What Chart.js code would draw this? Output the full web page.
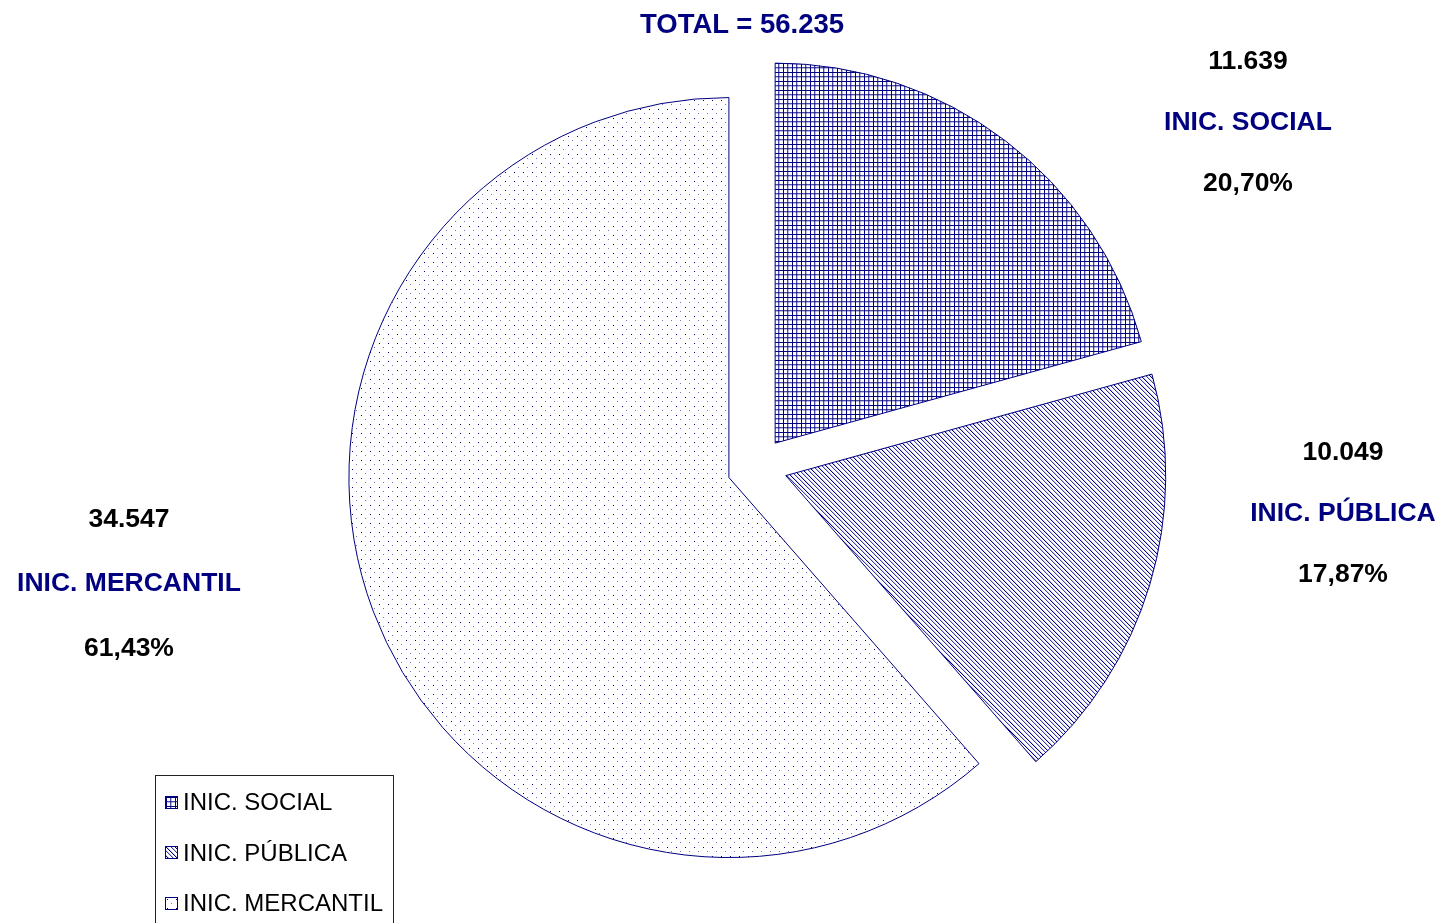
<!DOCTYPE html>
<html>
<head>
<meta charset="utf-8">
<script src="https://cdn.jsdelivr.net/npm/chart.js@4.4.0/dist/chart.umd.min.js"></script>
<style>
  body {
    margin: 0;
    width: 1440px;
    height: 923px;
    overflow: hidden;
    position: relative;
    background: #fff;
    font-family: "Liberation Sans", Arial, sans-serif;
  }
  #pie { position: absolute; left: 0; top: 0; }
  .lbl {
    position: absolute;
    transform: translate(-50%, -50%);
    font-weight: bold;
    font-size: 26.5px;
    white-space: nowrap;
    line-height: 1;
  }
  #title { font-size: 27.5px; }
  .navy { color: #000080; }
  .black { color: #000; }
  #legend {
    position: absolute;
    left: 155px;
    top: 775px;
    width: 239px;
    height: 170px;
    border: 1px solid #222;
    box-sizing: border-box;
  }
  .item {
    position: absolute;
    left: 9px;
    display: flex;
    align-items: center;
    font-size: 24px;
    color: #000;
    white-space: nowrap;
  }
  .sw {
    width: 13px;
    height: 13px;
    border: 1px solid #000080;
    box-sizing: border-box;
    margin-right: 5px;
  }
</style>
</head>
<body>
<canvas id="pie" width="1440" height="923"></canvas>
<div id="title" class="lbl navy"></div>
<div id="labels"></div>
<div id="legend"></div>
<script>
const categories = ["INIC. SOCIAL", "INIC. PÚBLICA", "INIC. MERCANTIL"];
const values = [11639, 10049, 34547];
const patternKinds = ["grid", "diag", "dots"];

// where each outside label block sits (centre of the name line) and line gap
const labelPos = [
  { x: 1248, y: 121, gap: 61 },
  { x: 1343, y: 512, gap: 61 },
  { x: 129, y: 582, gap: 64.5 },
];

const NAVY = "#000080";
const EXPLODE = 30; // every slice is pulled out from the centre
const total = values.reduce((a, b) => a + b, 0);

function fmtThousands(v) {
  return String(v).replace(/\B(?=(\d{3})+(?!\d))/g, ".");
}
function fmtPct(v) {
  return ((v / total) * 100).toFixed(2).replace(".", ",") + "%";
}

// === pattern tiles (9px repeat, two lines per tile) ===
function makeTile(kind) {
  const c = document.createElement("canvas");
  c.width = 9;
  c.height = 9;
  const g = c.getContext("2d");
  g.fillStyle = "#fff";
  g.fillRect(0, 0, 9, 9);
  if (kind === "grid") {
    g.fillStyle = NAVY;
    g.fillRect(0, 0, 1, 9);
    g.fillRect(0, 0, 9, 1);
    g.fillStyle = "rgba(0,0,128,0.7)";
    g.fillRect(4, 0, 1, 9);
    g.fillRect(0, 4, 9, 1);
    g.fillStyle = "rgba(0,0,128,0.25)";
    g.fillRect(5, 0, 1, 9);
    g.fillRect(0, 5, 9, 1);
  } else if (kind === "diag") {
    for (let x = 0; x < 9; x++) {
      for (let y = 0; y < 9; y++) {
        const d = (((x - y) % 9) + 9) % 9;
        if (d === 0) g.fillStyle = NAVY;
        else if (d === 5) g.fillStyle = "rgba(0,0,128,0.75)";
        else if (d === 1 || d === 6) g.fillStyle = "rgba(0,0,128,0.2)";
        else continue;
        g.fillRect(x, y, 1, 1);
      }
    }
  } else {
    g.fillStyle = NAVY;
    g.fillRect(1, 1, 1, 1);
    g.fillStyle = "rgba(0,0,128,0.55)";
    g.fillRect(5, 5, 1, 1);
  }
  return c;
}

const tiles = patternKinds.map(makeTile);
const ctx = document.getElementById("pie").getContext("2d");
const patterns = tiles.map((t) => ctx.createPattern(t, "repeat"));

// Chart.js "offset" trims and grows big slices, so move each arc's centre
// out along its mid angle instead
const explode = {
  id: "explode",
  beforeDatasetDraw(chart, args) {
    const a = chart.chartArea;
    const cx = (a.left + a.right) / 2;
    const cy = (a.top + a.bottom) / 2;
    args.meta.data.forEach((arc) => {
      const mid = (arc.startAngle + arc.endAngle) / 2;
      arc.x = cx + Math.cos(mid) * EXPLODE;
      arc.y = cy + Math.sin(mid) * EXPLODE;
    });
  },
};

new Chart(ctx, {
  type: "pie",
  data: {
    labels: categories,
    datasets: [
      {
        data: values,
        backgroundColor: patterns,
        borderColor: NAVY,
        borderWidth: 1,
        borderJoinStyle: "miter",
        offset: 0,
        hoverOffset: 0,
      },
    ],
  },
  options: {
    responsive: false,
    animation: false,
    events: [],
    devicePixelRatio: 1,
    radius: 380,
    layout: { padding: { left: 74, top: 11, right: 0, bottom: 0 } },
    plugins: {
      legend: { display: false },
      tooltip: { enabled: false },
      title: { display: false },
    },
  },
  plugins: [explode],
});

// === Title and outside labels ===
const title = document.getElementById("title");
title.textContent = "TOTAL = " + fmtThousands(total);
title.style.left = "742px";
title.style.top = "24px";

const labelsEl = document.getElementById("labels");
categories.forEach((cat, i) => {
  const p = labelPos[i];
  const rows = [
    [fmtThousands(values[i]), "black", p.y - p.gap],
    [cat, "navy", p.y],
    [fmtPct(values[i]), "black", p.y + p.gap],
  ];
  rows.forEach(([txt, cls, y]) => {
    const d = document.createElement("div");
    d.className = "lbl " + cls;
    d.textContent = txt;
    d.style.left = p.x + "px";
    d.style.top = y + "px";
    labelsEl.appendChild(d);
  });
});

// === Legend ===
const legend = document.getElementById("legend");
categories.forEach((cat, i) => {
  const item = document.createElement("div");
  item.className = "item";
  item.style.top = 26 + i * 50.5 - 14 + "px";
  const sw = document.createElement("span");
  sw.className = "sw";
  sw.style.backgroundImage = "url(" + tiles[i].toDataURL() + ")";
  const txt = document.createElement("span");
  txt.textContent = cat;
  item.appendChild(sw);
  item.appendChild(txt);
  legend.appendChild(item);
});
</script>
</body>
</html>
